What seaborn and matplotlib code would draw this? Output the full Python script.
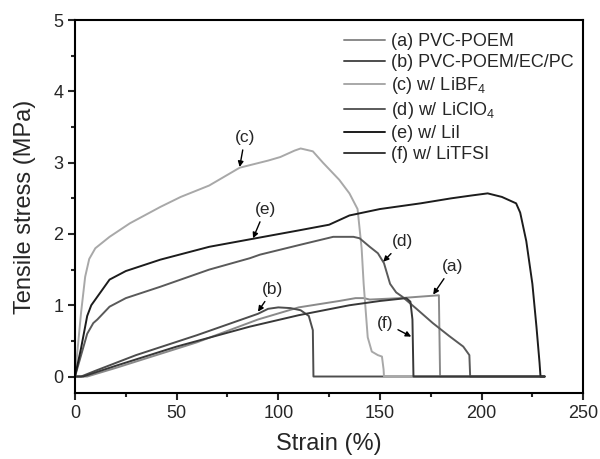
import numpy as np
import pandas as pd
import matplotlib
matplotlib.use("Agg")
import matplotlib.pyplot as plt
from matplotlib.ticker import MultipleLocator
import seaborn as sns

# stress-strain curves (strain %, stress MPa)
a_strain = [0, 6, 20, 40, 60, 90, 110, 130, 138, 142, 145, 160, 179, 179.6, 231]
a_stress = [0, 0, 0.12, 0.30, 0.48, 0.80, 0.97, 1.06, 1.10, 1.10, 1.08, 1.10, 1.14, 0, 0]

b_strain = [0, 3, 10, 30, 60, 90, 95, 100, 106, 111, 115, 117, 117.3, 231]
b_stress = [0, 0, 0.08, 0.30, 0.58, 0.88, 0.95, 0.97, 0.96, 0.93, 0.85, 0.65, 0, 0]

c_strain = [0, 3, 5, 7, 10, 17, 27, 42, 52, 66, 81, 95, 101, 108, 111, 117, 122,
            126, 130, 135, 139, 141, 142, 144, 146, 149, 151, 151.8, 152, 231]
c_stress = [0, 0.9, 1.4, 1.65, 1.8, 1.96, 2.15, 2.38, 2.52, 2.68, 2.93, 3.03, 3.08,
            3.17, 3.20, 3.16, 3.00, 2.88, 2.76, 2.57, 2.35, 1.8, 1.3, 0.55, 0.35,
            0.30, 0.28, 0.10, 0, 0]

d_strain = [0, 3, 6, 9, 11, 17, 25, 42, 66, 86, 91, 111, 127, 137, 140, 145, 149,
            152, 155, 158, 161, 168, 176, 184, 191, 194, 194.4, 231]
d_stress = [0, 0.3, 0.6, 0.75, 0.8, 0.98, 1.10, 1.26, 1.50, 1.66, 1.71, 1.85, 1.96,
            1.96, 1.94, 1.82, 1.73, 1.59, 1.30, 1.18, 1.12, 0.95, 0.75, 0.57, 0.42,
            0.30, 0, 0]

e_strain = [0, 3, 6, 8, 11, 17, 25, 42, 66, 87, 110, 125, 135, 150, 170, 185, 195,
            203, 210, 217, 219, 222, 225, 227, 228.5, 229, 231]
e_stress = [0, 0.4, 0.85, 1.0, 1.12, 1.36, 1.48, 1.64, 1.82, 1.93, 2.05, 2.13, 2.26,
            2.35, 2.43, 2.50, 2.54, 2.57, 2.52, 2.43, 2.30, 1.90, 1.30, 0.70, 0.20,
            0, 0]

f_strain = [0, 4, 20, 50, 86, 110, 135, 150, 163, 165, 166, 166.5, 231]
f_stress = [0, 0, 0.15, 0.42, 0.70, 0.86, 1.00, 1.06, 1.10, 1.05, 0.80, 0, 0]

labels = ['(a) PVC-POEM', '(b) PVC-POEM/EC/PC', '(c) w/ LiBF$_4$',
          '(d) w/ LiClO$_4$', '(e) w/ LiI', '(f) w/ LiTFSI']
colors = ['#8a8a8a', '#4d4d4d', '#a8a8a8', '#5a5a5a', '#1c1c1c', '#383838']

curves = [(a_strain, a_stress), (b_strain, b_stress), (c_strain, c_stress),
          (d_strain, d_stress), (e_strain, e_stress), (f_strain, f_stress)]
frames = []
for lab, (s, t) in zip(labels, curves):
    frames.append(pd.DataFrame({'strain': s, 'stress': t, 'sample': lab}))
df = pd.concat(frames, ignore_index=True)

sns.set_style("ticks")
plt.rcParams['font.family'] = ['Liberation Sans', 'DejaVu Sans']
plt.rcParams['mathtext.default'] = 'regular'

fig, ax = plt.subplots(figsize=(6, 4.59), dpi=100)
fig.subplots_adjust(left=0.125, right=0.972, top=0.956, bottom=0.144)

sns.lineplot(data=df, x='strain', y='stress', hue='sample', palette=colors,
             hue_order=labels, sort=False, estimator=None, linewidth=1.4, ax=ax)

ax.set_xlim(0, 250)
ax.set_ylim(-0.23, 5)
ax.xaxis.set_major_locator(MultipleLocator(50))
ax.xaxis.set_minor_locator(MultipleLocator(25))
ax.yaxis.set_major_locator(MultipleLocator(1))
ax.yaxis.set_minor_locator(MultipleLocator(0.5))
ax.tick_params(which='major', length=5, width=1.5, labelsize=13, direction='out')
ax.tick_params(which='minor', length=3, width=1.5, direction='out')
for sp in ax.spines.values():
    sp.set_linewidth(1.5)
    sp.set_color('black')
ax.set_xlabel('Strain (%)', fontsize=17, labelpad=8)
ax.set_ylabel('Tensile stress (MPa)', fontsize=17, labelpad=12)

handles, labs = ax.get_legend_handles_labels()
ax.legend(handles, labs, loc='upper left', bbox_to_anchor=(0.529, 0.965),
          frameon=False, fontsize=13, labelspacing=0.22, handlelength=2.3,
          handletextpad=0.3, borderpad=0, borderaxespad=0)

# curve labels with arrows
notes = [('(c)', (81, 2.94), (83.6, 3.35)),
         ('(e)', (87.6, 1.94), (93.5, 2.34)),
         ('(b)', (90, 0.91), (97.4, 1.22)),
         ('(d)', (151.6, 1.61), (161, 1.89)),
         ('(a)', (176.2, 1.15), (185.5, 1.54)),
         ('(f)', (165.4, 0.56), (152.6, 0.75))]
for txt, tip, pos in notes:
    ax.annotate(txt, xy=tip, xytext=pos, ha='center', va='center', fontsize=12.5,
                arrowprops=dict(arrowstyle='-|>', color='black', lw=1,
                                mutation_scale=8, shrinkA=1, shrinkB=0))

plt.savefig('out.png', dpi=100)
